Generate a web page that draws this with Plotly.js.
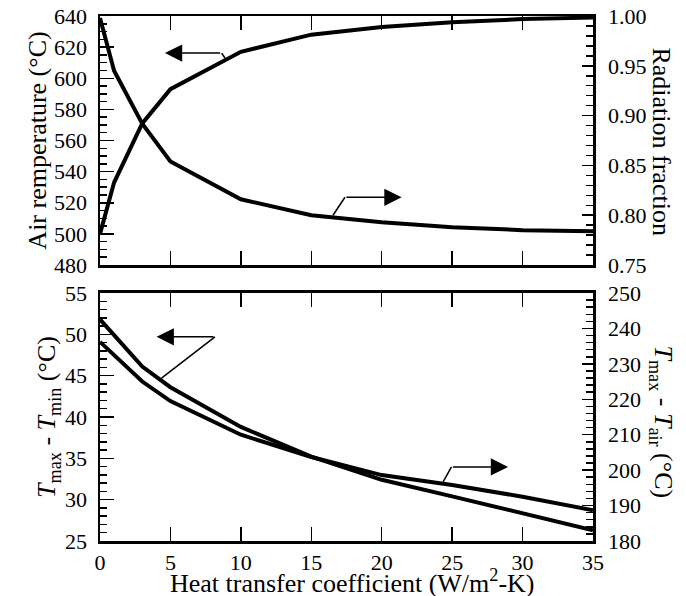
<!DOCTYPE html>
<html>
<head>
<meta charset="utf-8">
<script src="https://cdn.plot.ly/plotly-3.0.1.min.js"></script>
<style>
html,body{margin:0;padding:0;background:#fff}
#chart{width:686px;height:596px}
</style>
</head>
<body>
<div id="chart"></div>
<script>
// Heat transfer coefficient (W/m2-K)
const h = [0, 1, 3, 5, 10, 15, 20, 25, 30, 35];
// Top panel
const airTemp = [500, 533, 571, 593, 617, 628, 633, 636, 638, 639];
const radFrac = [0.998, 0.945, 0.892, 0.854, 0.816, 0.800, 0.793, 0.788, 0.785, 0.784];
// Bottom panel
const tMaxMinusMin = [51.8, 49.9, 46.1, 43.6, 38.8, 35.2, 32.4, 30.4, 28.4, 26.3];
const tMaxMinusAir = [236.2, 232.5, 225.0, 219.5, 210.0, 203.7, 198.6, 195.8, 192.5, 188.7];

const FONT = "Liberation Serif";
const TICK_SIZE = 22;
const TITLE_SIZE = 26;
const lineStyle = {color: '#000', width: 4};

const traces = [
  {x: h, y: airTemp, xaxis: 'x', yaxis: 'y', mode: 'lines', line: lineStyle},
  {x: h, y: radFrac, xaxis: 'x', yaxis: 'y2', mode: 'lines', line: lineStyle},
  {x: h, y: tMaxMinusMin, xaxis: 'x2', yaxis: 'y3', mode: 'lines', line: lineStyle},
  {x: h, y: tMaxMinusAir, xaxis: 'x2', yaxis: 'y4', mode: 'lines', line: lineStyle}
];

function axis(extra) {
  return Object.assign({
    showline: true, linecolor: '#000', linewidth: 2.5,
    ticks: 'inside', tickcolor: '#000', tickwidth: 1.5, ticklen: 14,
    showgrid: false, zeroline: false, automargin: false,
    tickfont: {family: FONT, size: TICK_SIZE, color: '#000'}
  }, extra);
}
function minor(d) {
  return {dtick: d, ticklen: 7, ticks: 'inside', tickcolor: '#000', tickwidth: 1.5};
}
function ttl(t, s) {
  return {text: t, font: {family: FONT, size: TITLE_SIZE, color: '#000'}, standoff: s};
}
function arrow(xr, yr, x, y, ax) {
  return {xref: xr, yref: yr, x: x, y: y, axref: xr, ayref: yr, ax: ax, ay: y,
    text: '', showarrow: true, arrowhead: 2, arrowsize: 2.3, arrowwidth: 1.5,
    arrowcolor: '#000', standoff: 0};
}
function leader(xr, yr, x0, y0, x1, y1) {
  return {type: 'line', xref: xr, yref: yr, x0: x0, y0: y0, x1: x1, y1: y1,
    line: {color: '#000', width: 1.5}};
}
function sideTitle(t, x, y, angle) {
  return {xref: 'paper', yref: 'paper', x: x, y: y, xanchor: 'center', yanchor: 'middle',
    text: t, textangle: angle, showarrow: false,
    font: {family: FONT, size: TITLE_SIZE, color: '#000'}};
}

const topDom = [0.5257, 1];
const botDom = [0, 0.4724];

const layout = {
  width: 686, height: 596,
  margin: {l: 100, r: 93, t: 16, b: 55},
  paper_bgcolor: '#fff', plot_bgcolor: '#fff',
  showlegend: false,
  font: {family: FONT, size: TICK_SIZE, color: '#000'},
  xaxis: axis({range: [0, 35], dtick: 5, mirror: 'ticks', showticklabels: false, anchor: 'y'}),
  yaxis: axis({domain: topDom, range: [480, 640], dtick: 20, minor: minor(5),
    ticklabelstandoff: 6, anchor: 'x', title: ttl('Air remperature (°C)', 0)}),
  yaxis2: axis({domain: topDom, range: [0.75, 1.0], dtick: 0.05, tickformat: '.2f', ticklen: 11,
    minor: minor(0.01), side: 'right', overlaying: 'y', anchor: 'x', ticklabelstandoff: 8}),
  xaxis2: axis({range: [0, 35], dtick: 5, mirror: 'ticks', anchor: 'y3', ticklabelstandoff: 0}),
  yaxis3: axis({domain: botDom, range: [25, 55], dtick: 5, minor: minor(1),
    ticklabelstandoff: 6, anchor: 'x2',
    title: ttl('<i>T</i><sub>max</sub> - <i>T</i><sub>min</sub> (°C)', 2)}),
  yaxis4: axis({domain: botDom, range: [180, 250], dtick: 10, ticklen: 11, minor: minor(2),
    side: 'right', overlaying: 'y3', anchor: 'x2', ticklabelstandoff: 8}),
  annotations: [
    sideTitle('Radiation fraction', 1.14, 0.761, 90),
    sideTitle('<i>T</i><sub>max</sub> - <i>T</i><sub>air</sub> (°C)', 1.14, 0.2276, 90),
    sideTitle('Heat transfer coefficient (W/m<sup>2</sup>-K)', 0.512, -0.077, 0),
    arrow('x', 'y', 4.61, 616.2, 8.64),
    arrow('x', 'y2', 21.41, 0.818, 17.39),
    arrow('x2', 'y3', 4.02, 49.7, 8.16),
    arrow('x2', 'y4', 28.97, 200.9, 24.95)
  ],
  shapes: [
    leader('x', 'y', 8.64, 616.2, 8.87, 613),
    leader('x', 'y2', 16.54, 0.800, 17.39, 0.818),
    leader('x2', 'y3', 8.16, 49.7, 4.37, 44.7),
    leader('x2', 'y4', 24.36, 196.7, 24.95, 200.9)
  ]
};

Plotly.newPlot('chart', traces, layout, {displayModeBar: false, staticPlot: true});
</script>
</body>
</html>
